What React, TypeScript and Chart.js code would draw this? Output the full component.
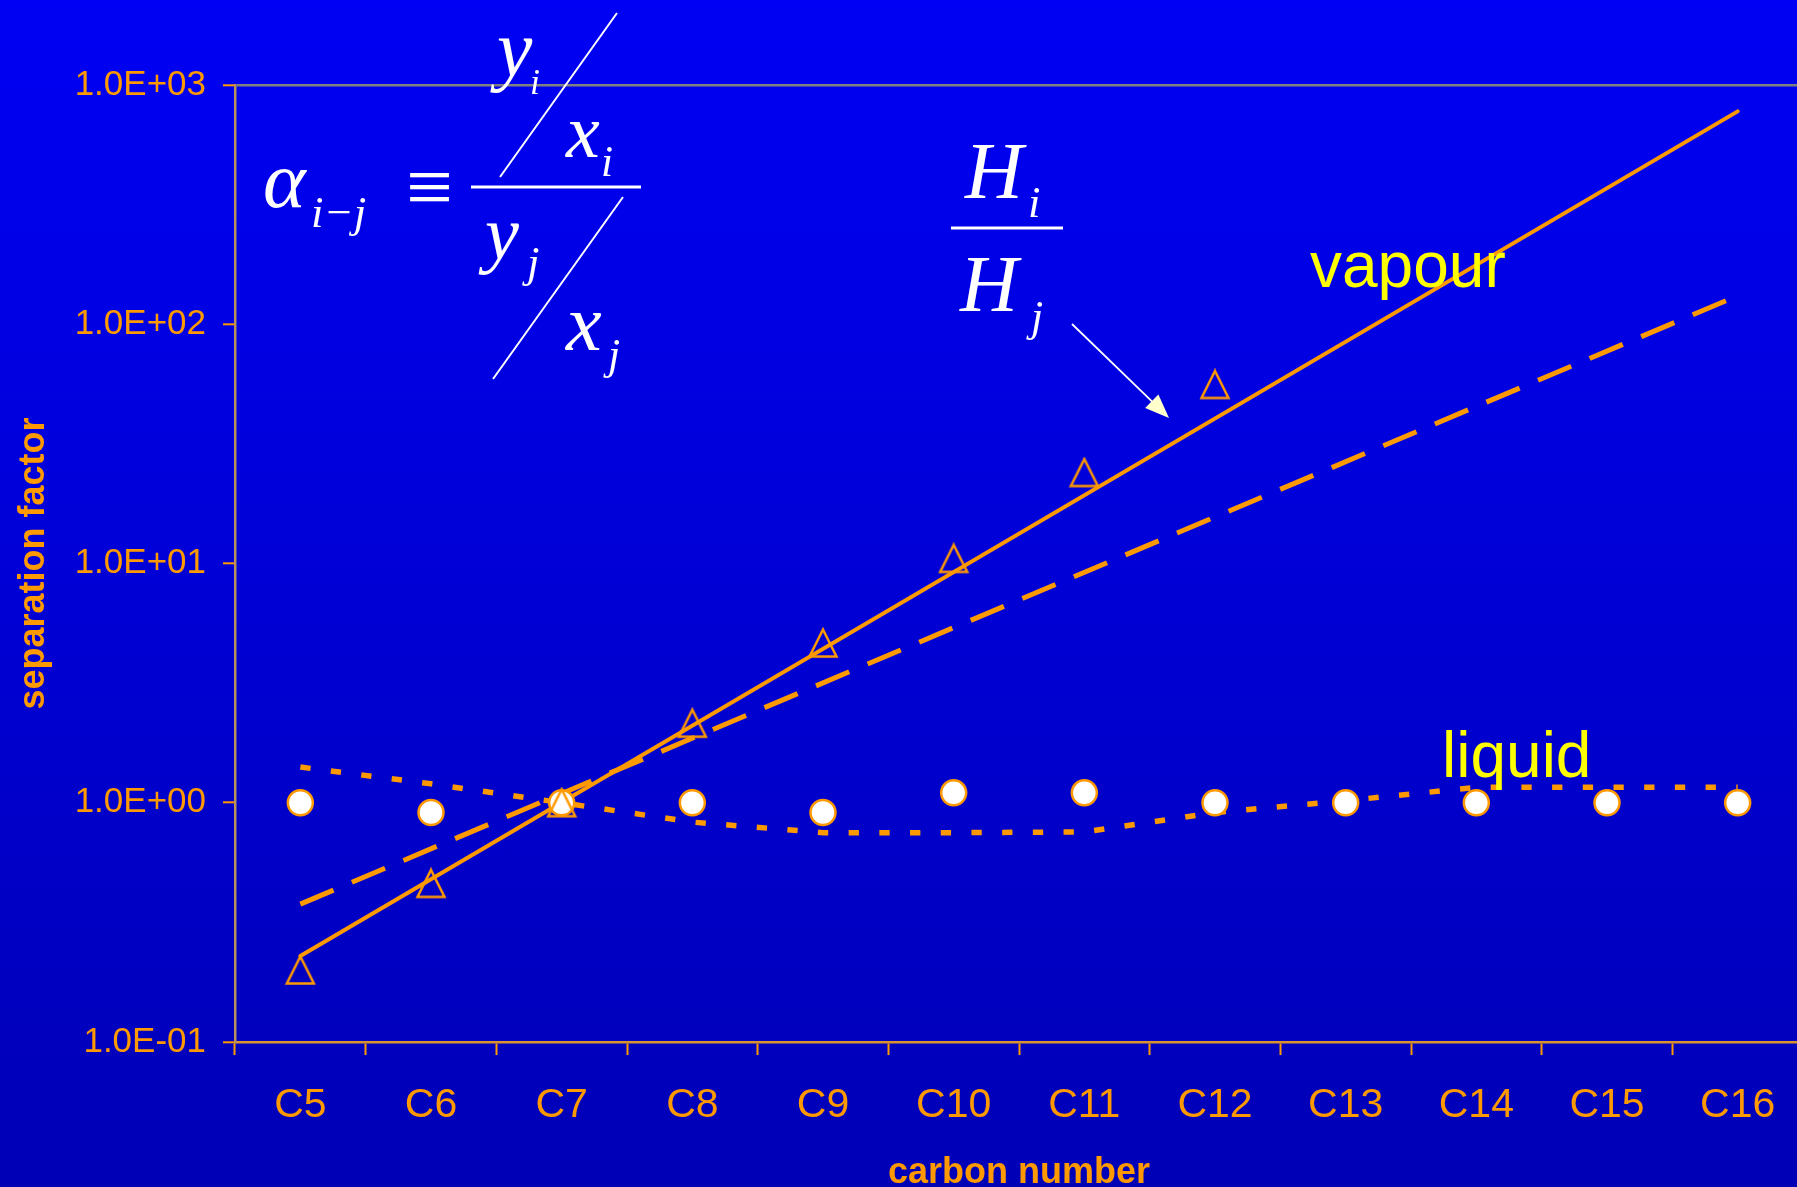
import { useEffect, useRef } from 'react';
import { Chart, registerables } from 'chart.js';

Chart.register(...registerables);

// Carbon-number categories along the x axis
const carbonNumbers = ['C5', 'C6', 'C7', 'C8', 'C9', 'C10', 'C11', 'C12', 'C13', 'C14', 'C15', 'C16'];

// Measured separation factors (triangles and circles)
const vapourSeparation = [0.2, 0.46, 1.0, 2.15, 4.65, 10.5, 24, 56, null, null, null, null];
const liquidSeparation = [1.0, 0.91, 1.0, 1.0, 0.91, 1.1, 1.1, 1.0, 1.0, 1.0, 1.0, 1.0];

// Trend lines: exponential ones are straight on the log axis, so only their ends are given
const henryRatioLine = [0.229, null, null, null, null, null, null, null, null, null, null, 776];
const vapourTrendLine = [0.377, null, null, null, null, null, null, null, null, null, null, 131.5];
const liquidTrendLine = [1.41, 1.2, 1.0, 0.83, 0.75, 0.75, 0.755, 0.91, 1.02, 1.16, 1.16, 1.16];

// Decade ticks on the separation-factor axis
const yTickValues = [0.1, 1, 10, 100, 1000];
const yTickLabels = ['1.0E-01', '1.0E+00', '1.0E+01', '1.0E+02', '1.0E+03'];

const ORANGE = '#FF9900';
const SANS = "'Liberation Sans', Arial, sans-serif";
const SERIF = "'Liberation Serif', 'Times New Roman', serif";
const W = 1803;
const H = 1187;

function makeTriangle(): HTMLCanvasElement {
  const c = document.createElement('canvas');
  c.width = 32;
  c.height = 32;
  const g = c.getContext('2d')!;
  g.strokeStyle = ORANGE;
  g.lineWidth = 2.5;
  g.lineJoin = 'miter';
  g.beginPath();
  g.moveTo(16, 2.5);
  g.lineTo(29.5, 29.5);
  g.lineTo(2.5, 29.5);
  g.closePath();
  g.stroke();
  return c;
}

// Draws a glyph run so that its ink box starts at (left, top) and is `height` tall
function placeGlyphs(
  ctx: CanvasRenderingContext2D,
  text: string,
  style: string,
  left: number,
  top: number,
  height: number,
  color: string,
) {
  ctx.textAlign = 'left';
  ctx.textBaseline = 'alphabetic';
  ctx.font = `${style} 100px ${SERIF}`;
  const ref = ctx.measureText(text);
  const refH = ref.actualBoundingBoxAscent + ref.actualBoundingBoxDescent || 70;
  const size = (100 * height) / refH;
  ctx.font = `${style} ${size}px ${SERIF}`;
  const m = ctx.measureText(text);
  ctx.fillStyle = color;
  ctx.fillText(text, left + m.actualBoundingBoxLeft, top + m.actualBoundingBoxAscent);
}

function line(ctx: CanvasRenderingContext2D, x1: number, y1: number, x2: number, y2: number, w: number, color: string) {
  ctx.strokeStyle = color;
  ctx.lineWidth = w;
  ctx.setLineDash([]);
  ctx.beginPath();
  ctx.moveTo(x1, y1);
  ctx.lineTo(x2, y2);
  ctx.stroke();
}

const annotations = {
  id: 'annotations',
  afterDraw(chart: Chart) {
    const ctx = chart.ctx;
    ctx.save();
    const it = 'italic';
    const white = '#FFFFFF';

    // alpha_{i-j} = (y_i / x_i) / (y_j / x_j)
    placeGlyphs(ctx, 'α', it, 265, 169, 39, white);
    placeGlyphs(ctx, 'i−j', it, 313, 198, 39, white);
    ctx.font = `100px ${SERIF}`;
    const em = ctx.measureText('≡');
    const eqW = em.actualBoundingBoxLeft + em.actualBoundingBoxRight || 55;
    const eqSize = (100 * 40) / eqW;
    ctx.font = `${eqSize}px ${SERIF}`;
    const em2 = ctx.measureText('≡');
    ctx.fillStyle = white;
    ctx.fillText('≡', 410 + em2.actualBoundingBoxLeft, 173 + em2.actualBoundingBoxAscent);
    line(ctx, 471, 187, 641, 187, 3, white);
    placeGlyphs(ctx, 'y', it, 490, 38, 54, white);
    placeGlyphs(ctx, 'i', it, 532, 70, 24, white);
    line(ctx, 617, 13, 500, 177, 2, white);
    placeGlyphs(ctx, 'x', it, 565, 122, 35, white);
    placeGlyphs(ctx, 'i', it, 603, 147, 29, white);
    placeGlyphs(ctx, 'y', it, 478, 223, 52, white);
    placeGlyphs(ctx, 'j', it, 522, 248, 39, white);
    line(ctx, 623, 197, 493, 379, 2, white);
    placeGlyphs(ctx, 'x', it, 565, 313, 37, white);
    placeGlyphs(ctx, 'j', it, 603, 340, 38, white);

    // H_i / H_j with arrow to the solid line
    placeGlyphs(ctx, 'H', it, 964, 145, 53, white);
    placeGlyphs(ctx, 'i', it, 1030, 188, 30, white);
    line(ctx, 951, 228, 1063, 228, 3, white);
    placeGlyphs(ctx, 'H', it, 959, 258, 53, white);
    placeGlyphs(ctx, 'j', it, 1026, 302, 38, white);

    const ax = 1072, ay = 324, tx = 1169, ty = 418;
    const dx = tx - ax, dy = ty - ay;
    const len = Math.hypot(dx, dy);
    const ux = dx / len, uy = dy / len;
    const headL = 24, headW = 9.5;
    const bx = tx - ux * headL, by = ty - uy * headL;
    line(ctx, ax, ay, bx + ux * 2, by + uy * 2, 1.8, white);
    ctx.fillStyle = '#FFFFCC';
    ctx.beginPath();
    ctx.moveTo(tx, ty);
    ctx.lineTo(bx - uy * headW, by + ux * headW);
    ctx.lineTo(bx + uy * headW, by - ux * headW);
    ctx.closePath();
    ctx.fill();

    // Phase labels
    ctx.font = `64px ${SANS}`;
    ctx.fillStyle = '#FFFF00';
    ctx.textAlign = 'left';
    ctx.textBaseline = 'alphabetic';
    ctx.fillText('vapour', 1310, 287);
    ctx.fillText('liquid', 1442, 777);
    ctx.restore();
  },
};

export default function App() {
  const canvasRef = useRef<HTMLCanvasElement | null>(null);

  useEffect(() => {
    const canvas = canvasRef.current;
    if (!canvas) return;
    const triangle = makeTriangle();

    const chart = new Chart(canvas, {
      type: 'line',
      data: {
        labels: carbonNumbers,
        datasets: [
          {
            data: vapourSeparation,
            showLine: false,
            pointStyle: triangle,
            pointRadius: 14,
            pointBorderColor: ORANGE,
            pointBackgroundColor: 'rgba(0,0,0,0)',
          },
          {
            data: liquidSeparation,
            showLine: false,
            pointStyle: 'circle',
            pointRadius: 12.5,
            pointBorderWidth: 2.5,
            pointBorderColor: ORANGE,
            pointBackgroundColor: '#FFFFFF',
          },
          {
            data: henryRatioLine,
            spanGaps: true,
            borderColor: ORANGE,
            borderWidth: 4,
            borderCapStyle: 'round',
            pointRadius: 0,
            tension: 0,
          },
          {
            data: vapourTrendLine,
            spanGaps: true,
            borderColor: ORANGE,
            borderWidth: 5,
            borderDash: [36, 20],
            pointRadius: 0,
            tension: 0,
          },
          {
            data: liquidTrendLine,
            borderColor: ORANGE,
            borderWidth: 5.5,
            borderDash: [10.3, 20.4],
            pointRadius: 0,
            tension: 0,
          },
        ],
      },
      options: {
        responsive: false,
        animation: false,
        devicePixelRatio: 1,
        layout: { autoPadding: false, padding: { top: 85, left: 0, right: 0, bottom: 0 } },
        plugins: {
          legend: { display: false },
          tooltip: { enabled: false },
        },
        scales: {
          x: {
            type: 'category',
            offset: true,
            grid: {
              offset: true,
              drawOnChartArea: false,
              tickLength: 13,
              tickColor: ORANGE,
              tickWidth: 2,
            },
            border: { display: true, color: '#D8922E', width: 2.5 },
            ticks: {
              color: ORANGE,
              font: { family: SANS, size: 41 },
              padding: 26,
              maxRotation: 0,
              autoSkip: false,
            },
            title: {
              display: true,
              text: 'carbon number',
              color: ORANGE,
              font: { family: SANS, size: 36, weight: 'bold', lineHeight: 0.8 },
              padding: 0,
            },
            afterFit: (s: any) => {
              s.height = 145;
              s.paddingLeft = 0;
              s.paddingRight = 0;
            },
          },
          y: {
            type: 'logarithmic',
            min: 0.1,
            max: 1000,
            afterBuildTicks: (s: any) => {
              s.ticks = yTickValues.map((v) => ({ value: v }));
            },
            ticks: {
              color: ORANGE,
              font: { family: SANS, size: 35 },
              padding: 17,
              callback: (v: any) => {
                const i = yTickValues.findIndex((t) => Math.abs(t - Number(v)) < 1e-9 * Math.max(1, t));
                return i >= 0 ? yTickLabels[i] : '';
              },
            },
            grid: {
              drawOnChartArea: true,
              color: (c: any) => (c.tick && c.tick.value === 1000 ? '#808080' : 'rgba(0,0,0,0)'),
              lineWidth: 2.6,
              tickColor: ORANGE,
              tickWidth: 2,
              tickLength: 12,
            },
            border: { display: true, color: '#B8925A', width: 2.5 },
            title: {
              display: true,
              text: 'separation factor',
              color: ORANGE,
              font: { family: SANS, size: 36, weight: 'bold' },
              padding: { top: 12, bottom: 0 },
            },
            afterFit: (s: any) => {
              s.width = 235;
            },
          },
        },
      },
      plugins: [annotations],
    } as any);

    return () => chart.destroy();
  }, []);

  return (
    <div
      style={{
        position: 'fixed',
        left: 0,
        top: 0,
        width: 1797,
        height: H,
        overflow: 'hidden',
        background: 'linear-gradient(to bottom, #0000F4 0%, #0000B6 100%)',
      }}
    >
      <canvas ref={canvasRef} width={W} height={H} style={{ display: 'block', width: W, height: H }} />
    </div>
  );
}
